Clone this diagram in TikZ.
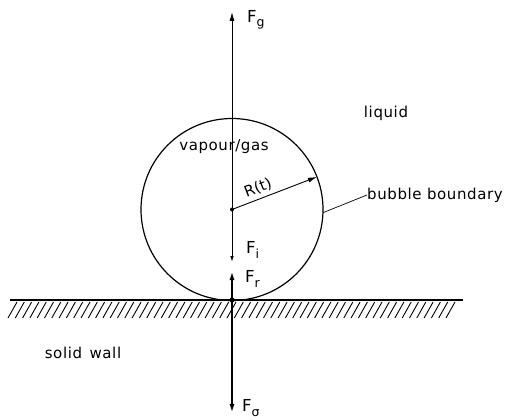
\documentclass[tikz,border=0pt]{standalone}
\usepackage{fontspec}
\setmainfont{DejaVu Sans}
\newfontfamily\labfont[LetterSpace=4]{DejaVu Sans}
\usetikzlibrary{arrows.meta,calc}
\newcommand{\Fsub}[1]{F\raisebox{-0.5ex}{\fontsize{12.5}{12.5}\selectfont #1}}
\begin{document}
\begin{tikzpicture}[x=1pt,y=-1pt,
  lab/.style={font=\labfont\fontsize{15}{17}\selectfont, inner sep=0pt},
  flab/.style={font=\fontsize{16.5}{18}\selectfont, inner sep=0pt, anchor=west},
  thin line/.style={line width=0.9pt},
  thick line/.style={line width=2pt},
  tip/.style={-{Latex[length=9pt,width=5pt]}},
  dot/.style={circle, fill=black, inner sep=0pt, minimum size=4pt}]
\useasboundingbox (0,0) rectangle (509,420);
% key points
\coordinate (C) at (232,209.5);
\coordinate (P) at (232,300);
\coordinate (T) at (232,12);
\coordinate (B) at (232,413);
\coordinate (Fi) at (232,262);
\coordinate (Fr) at (232,271);
\coordinate (Rt) at ($(C)+(-21:91)$);
% wall
\coordinate (WL) at (10,300);
\coordinate (WR) at (463,300);
\draw[line width=1.5pt] (WL) -- (WR);
\foreach \x in {8,15.3,...,452} {
  \draw[line width=0.9pt] (\x,318) -- (\x+9,302);
}
% bubble
\draw[line width=1.2pt] (C) circle (91);
% forces
\draw[thin line, tip] (C) -- (T);
\draw[thin line, -{Latex[length=6pt,width=3.5pt]}] (C) -- (Fi);
\draw[thick line, tip] (P) -- (Fr);
\draw[thick line, tip] (P) -- (B);
\node[dot] (Cd) at (C) {};
\node[dot, minimum size=5pt] (Pd) at (P) {};
% radius
\draw[thin line, -{Latex[length=9pt,width=5pt]}] (C) -- (Rt);
\node[font=\fontsize{15}{17}\selectfont, inner sep=0pt, rotate=21] (R) at (258,188) {R(t)};
% labels
\node[flab] (Fg) at (247,20) {\Fsub{g}};
\node[flab] (FiL) at (246,250) {\Fsub{i}};
\node[flab] (FrL) at (245,279) {\Fsub{r}};
\node[flab] (FsL) at (242,408) {\Fsub{σ}};
\node[lab] (vg) at (224,147) {vapour/gas};
\node[lab] (liq) at (386,113) {liquid};
\node[lab, anchor=west] (bb) at (367,195) {bubble boundary};
\node[lab] (sw) at (83,353) {solid\hspace{0.5em}wall};
\coordinate (Bd) at ($(C)+(2:91)$);
\draw[line width=0.7pt] (Bd) -- (bb.west);
\end{tikzpicture}
\end{document}
